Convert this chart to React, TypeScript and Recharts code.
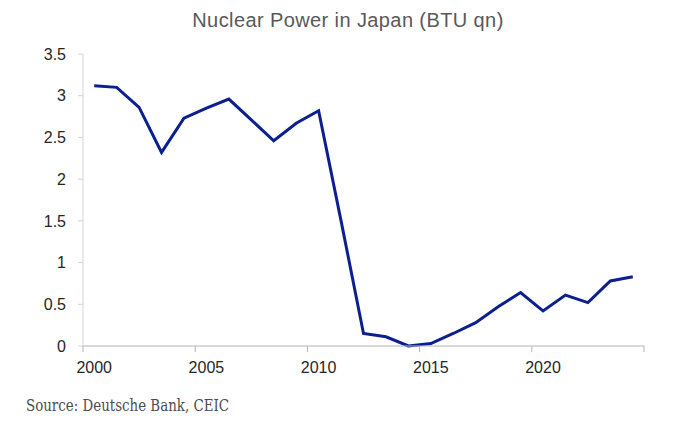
import { LineChart, Line, XAxis, YAxis } from 'recharts'

const years = [
  2000, 2001, 2002, 2003, 2004, 2005, 2006, 2007, 2008, 2009, 2010, 2011, 2012,
  2013, 2014, 2015, 2016, 2017, 2018, 2019, 2020, 2021, 2022, 2023, 2024,
]
const nuclear = [
  3.12, 3.1, 2.86, 2.32, 2.73, 2.85, 2.96, 2.71, 2.46, 2.67, 2.82, 1.5, 0.15,
  0.11, 0.0, 0.03, 0.15, 0.28, 0.47, 0.64, 0.42, 0.61, 0.52, 0.78, 0.83,
]
const yTicks = [0, 0.5, 1, 1.5, 2, 2.5, 3, 3.5]
const labelYears = [2000, 2005, 2010, 2015, 2020]

const data = years.map((year, i) => ({ year, value: nuclear[i] }))

// ticks sit on the category boundaries, labels in the middle of the category
const xTicks = [...labelYears.map((y) => y - 0.5), 2024.5]

const W = 693
const H = 434
const margin = { top: 54, right: 49, bottom: 58, left: 0 }
const xAxisHeight = 30
const yAxisWidth = 83
const halfCat = (W - margin.right - yAxisWidth) / years.length / 2

const XTick = (props: any) => {
  const { x, y, payload } = props
  const year = payload.value + 0.5
  return (
    <g>
      <line x1={x} y1={y} x2={x} y2={y + 6} stroke="#b4b4b4" strokeWidth={1} />
      {labelYears.includes(year) && (
        <text
          x={x + halfCat}
          y={y + 27}
          textAnchor="middle"
          fill="#262626"
          fontSize={16}
          fontFamily="'Liberation Sans', Arial, sans-serif"
        >
          {year}
        </text>
      )}
    </g>
  )
}

export default function App() {
  return (
    <div style={{ position: 'absolute', left: 0, top: 0, width: W, height: H, background: '#fff' }}>
      <LineChart width={W} height={H} data={data} margin={margin}>
        <XAxis
          dataKey="year"
          type="number"
          domain={[1999.5, 2024.5]}
          ticks={xTicks}
          interval={0}
          height={xAxisHeight}
          tickSize={0}
          tickMargin={0}
          tickLine={false}
          tick={<XTick />}
          axisLine={{ stroke: '#b4b4b4' }}
        />
        <YAxis
          type="number"
          domain={[0, 3.5]}
          ticks={yTicks}
          interval={0}
          width={yAxisWidth}
          tickSize={5}
          tickMargin={12}
          axisLine={{ stroke: '#d4d4d4' }}
          tickLine={{ stroke: '#d4d4d4' }}
          tick={{ fill: '#262626', fontSize: 16, fontFamily: "'Liberation Sans', Arial, sans-serif" }}
        />
        <Line
          type="linear"
          dataKey="value"
          stroke="#0c1f8f"
          strokeWidth={3}
          dot={false}
          isAnimationActive={false}
        />
      </LineChart>
      <svg
        width={W}
        height={H}
        style={{ position: 'absolute', left: 0, top: 0, pointerEvents: 'none' }}
      >
        <text
          x={348}
          y={27}
          textAnchor="middle"
          fill="#595959"
          fontSize={20}
          letterSpacing={0.4}
          fontFamily="'Liberation Sans', Arial, sans-serif"
        >
          Nuclear Power in Japan (BTU qn)
        </text>
        <text
          x={26}
          y={411}
          fill="#4d4d4d"
          fontSize={16}
          textLength={203}
          lengthAdjust="spacingAndGlyphs"
          fontFamily="'DejaVu Serif Condensed', 'DejaVu Serif', serif"
        >
          Source: Deutsche Bank, CEIC
        </text>
      </svg>
    </div>
  )
}
